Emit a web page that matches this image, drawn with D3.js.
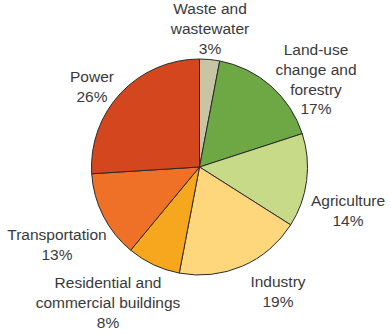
<!DOCTYPE html>
<html>
<head>
<meta charset="utf-8">
<script src="https://cdn.jsdelivr.net/npm/d3@7"></script>
<style>
  html, body { margin: 0; padding: 0; background: #fff; }
  svg { display: block; }
  text { font-family: "Liberation Sans", Arial, sans-serif; font-size: 15.5px; fill: #3a3a3a; }
</style>
</head>
<body>
<script>
let w = 391
let h = 334

// sectors, clockwise from 12 o'clock
let categories = ["Waste and wastewater", "Land-use change and forestry", "Agriculture",
    "Industry", "Residential and commercial buildings", "Transportation", "Power"]
let shares = [3, 17, 14, 19, 8, 13, 26]
let colours = ["#c9c4a3", "#6ea844", "#c6da87", "#fed77c", "#f7a71e", "#ef7127", "#d4461e"]

// label lines and where each label block is centred
let labelLines = [
    ["Waste and", "wastewater"],
    ["Land-use", "change and", "forestry"],
    ["Agriculture"],
    ["Industry"],
    ["Residential and", "commercial buildings"],
    ["Transportation"],
    ["Power"]
]
let labelPos = [[210, 9], [316, 50], [348, 201], [278, 282], [108, 283], [57, 235], [92, 77]]

let cx = 199.5, cy = 167, r = 108

let svg = d3.select("body")
    .append("svg")
    .attr("width", w)
    .attr("height", h)

let data = categories.map((c, i) => ({ name: c, value: shares[i], colour: colours[i] }))

let pie = d3.pie()
    .value(d => d.value)
    .sort(null)
    .startAngle(0)
    .endAngle(2 * Math.PI)

let arc = d3.arc().innerRadius(0).outerRadius(r)

svg.append("g")
    .attr("transform", "translate(" + cx + "," + cy + ")")
    .selectAll("path")
    .data(pie(data))
    .enter()
    .append("path")
    .attr("d", arc)
    .attr("fill", d => d.data.colour)
    .attr("stroke", "#2a2a2a")
    .attr("stroke-width", 1)

let lineH = 19.6

let labels = svg.append("g")
    .selectAll("text")
    .data(data)
    .enter()
    .append("text")
    .attr("text-anchor", "middle")
    .attr("transform", (d, i) => "translate(" + labelPos[i][0] + "," + labelPos[i][1] + ")")

labels.each(function (d, i) {
    let t = d3.select(this)
    let lines = labelLines[i].concat([d.value + "%"])
    lines.forEach((l, j) => {
        t.append("tspan")
            .attr("x", 0)
            .attr("y", j * lineH)
            .attr("dy", "0.35em")
            .text(l)
    })
})
</script>
</body>
</html>
